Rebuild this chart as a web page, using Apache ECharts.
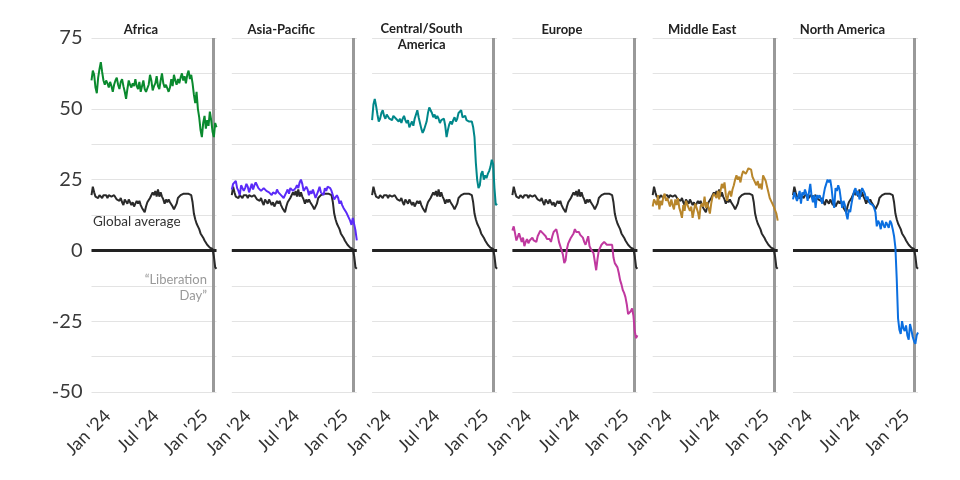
<!DOCTYPE html>
<html><head><meta charset="utf-8">
<script src="https://cdn.jsdelivr.net/npm/echarts@6/dist/echarts.min.js"></script>
<style>html,body{margin:0;padding:0;background:#fff}#c{width:960px;height:480px}</style>
</head><body><div id="c"></div>
<script>
// ---------- data ----------
const regions = ['Africa', 'Asia-Pacific', 'Central/South\nAmerica', 'Europe', 'Middle East', 'North America'];
const regionColors = ['#0a8a2e', '#5b2bf8', '#00878a', '#c0389f', '#b8862b', '#0b6fe0'];
const startDate = '2024-01-01';
const endDate = '2025-04-15';
const stepDays = 5;
const liberationDay = '2025-04-02';
const xTickDates = ['2024-01-01', '2024-07-01', '2025-01-01'];
const xTickLabels = ["Jan '24", "Jul '24", "Jan '25"];
const yTickLabels = [75, 50, 25, 0, -25, -50];

const globalAvg = [19.5,22.5,20.5,19,19.5,18.5,19.5,19,18.5,19.5,
 19,19.5,18.5,19.5,20,19,18.5,19.5,19,18,
 18.5,17.5,18.5,17,16,18,17.5,16.5,18,17,
 16,17,15.5,16.5,17.5,16.5,17.5,16,15,14.5,
 13.5,15.5,17,17.5,18.5,19,20.5,19.5,21,19,
 21.5,19,20.5,19,18,16.5,18,17,18,17,
 16.5,15.5,14.5,14,16.5,18.5,19,19.5,19,20,
 19.5,20,20.5,20,19.5,19.5,17,13,11,9.5,
 8.5,7.5,6,5.5,4.5,3.5,3,2,1.5,1,
 0.5,0.5,-2,-6,-6.5];

const africa = [60,63.5,62,57.5,55.5,61,64,66.5,63,60,
 58.5,60,59,57.5,59.5,58,56,58.5,60,61,
 58.5,57,59.5,60.5,58,56,53.5,57,60,58.5,
 57.5,59,58,60.5,58,57,59.5,56,58,60,
 57,56,55.5,58.5,62,60,56.5,58,59,61.5,
 58,57,60,62.5,59,57.5,58.5,58,56,57.5,
 60.5,58,62,60,58.5,60.5,59,61,62.5,60,
 61.5,59,62,63.5,60.5,62,59,55,52,56,
 50,47,42.5,40,45,47.5,43,46,44,49,
 46,42,40,45,43.5];

const asiaPacific = [21.5,23.5,24,24.5,22,21,19.5,23,22.5,21,
 22,23.5,22.5,20.5,22,23.5,21.5,23,24,23,
 22,22.5,21,20.5,22,22.5,21,21.5,20.5,21,
 19.5,20.5,21,20,21.5,20.5,21,19.5,20,18.5,
 19,20.5,21.5,20,22,22.5,21,20.5,22,23,
 22,24,25,23.5,21,20.5,22.5,21.5,19.5,21,
 20,21.5,20,18.5,19,21,22.5,20.5,21,19.5,
 22,21,22.5,23,22,21,19.5,18,17.5,19.5,
 18.5,16.5,17.5,16,15,14.5,13.5,13,11.5,10.5,
 9,11.5,12,7,3.5];

const centralSouthAmerica = [46,51.5,53.5,51,48,45.5,46.5,48.5,49.5,47.5,
 46.5,48,48.5,46.5,47,46,47.5,48,46.5,47,
 45.5,46.5,45,46.5,47.5,46,45,46,43.5,44.5,
 45.5,44,46.5,48,49.5,47,45,43,41.5,42.5,
 44,45.5,48.5,50.5,49.5,48.5,47,48,46.5,47.5,
 46.5,45,46,45.5,46.5,44,40,42.5,44.5,45.5,
 44.5,46,47,45.5,46.5,48.5,49,49.5,47,46.5,
 47.5,46,46.5,45.5,45,45.5,43.5,40,31,25,
 22,23,27,28,25,26.5,25.5,27,28,29.5,
 32,30.5,22,16,16.5];

const europe = [7,8.5,6,3.5,3,6,6,3,4.5,1.5,
 3,4,2.5,3.5,4,4.5,3.5,4,3,5,
 5.5,7,7.5,6,6.5,5,4,4.5,4,3,
 5,6.5,7,7.5,5.5,3,1.5,0,-1.5,-4.5,
 -3.5,0.5,2.5,3.5,4.5,5,6,7.5,6.5,6,
 6.5,5.5,6,4.5,3,2,3.5,5,1.5,0.5,
 0,-1,-4,-7,-3,0,1,2,2.5,3,
 2.5,2,2.5,2,1.5,2,-2.5,-4.5,-5,-6,
 -8,-10.5,-12,-14,-15,-16.5,-19,-22.5,-22.5,-21.5,
 -20.5,-23,-28.5,-31,-30];

const middleEast = [15.5,18,17,16,19.5,14.5,17.5,16,19,20,
 17.5,18.5,17,15.5,18,16,14.5,18,16,18.5,
 15,13.5,11.5,16,14,17.5,17,15,14,15.5,
 11.5,14,16.5,17,13.5,11,15.5,16.5,15.5,19,
 15,17,15,13,16.5,19,20,19.5,18.5,21,
 18,21,23.5,22,24,19.5,17.5,20,21,19,
 21.5,23,25,26.5,25,26,24,26.5,28,27.5,
 27,28,29,29.5,28.5,26,25,25.5,23,24.5,
 22,23.5,21.5,26.5,27,24.5,22.5,20.5,18.5,17.5,
 16.5,15.5,15,13,10.5];

const northAmerica = [18,20.5,21,17.5,19,21,16.5,20.5,19.5,21.5,
 20,17.5,20.5,23.5,19,17,19.5,15,19.5,18.5,
 19.5,20,16.5,19.5,22,23.5,25,24,25,22,
 17.5,15,22,21,23,21.5,18,15,17.5,16,
 13,11,14.5,13.5,16.5,19,21,22,19.5,21,
 18,20,22,22.5,20,18,19,17.5,16.5,17,
 16,15,13.5,8.5,10.5,9.5,7.5,10.5,9,8,
 10,9,8,10.5,9.5,7.5,5,1,-10,-24,
 -28,-29.5,-25,-27.5,-28.5,-26.5,-30,-31.5,-26,-28,
 -30.5,-32,-33,-30,-29];

const regionValues = [africa, asiaPacific, centralSouthAmerica, europe, middleEast, northAmerica];

// ---------- build ----------
const DAY = 86400000;
const ts = s => Date.parse(s + 'T00:00:00Z');
const t0 = ts(startDate), t1 = ts(endDate);
const dates = globalAvg.map((_, i) => t0 + i * stepDays * DAY);
const pair = arr => arr.map((v, i) => [dates[i], v]);
const tickTs = xTickDates.map(ts);
const labelShiftDays = 61;

const FONT = 'Lato, "Open Sans", sans-serif';
const panelLeft0 = 91.5, panelStep = 140.3, panelW = 125, panelTop = 38, panelBottom = 88;

const grid = [], xAxis = [], yAxis = [], series = [], graphic = [];
regions.forEach((name, i) => {
  const left = panelLeft0 + i * panelStep;
  grid.push({ left: left, width: panelW, top: panelTop, bottom: panelBottom, containLabel: false });
  // data axis
  xAxis.push({ gridIndex: i, type: 'time', min: t0, max: t1,
    axisLine: { show: false }, axisTick: { show: false }, axisLabel: { show: false }, splitLine: { show: false } });
  // label axis
  xAxis.push({ gridIndex: i, type: 'value', position: 'bottom',
    min: t0 - labelShiftDays * DAY, max: t1 - labelShiftDays * DAY,
    axisLine: { show: false }, axisTick: { show: false }, splitLine: { show: false },
    axisLabel: { show: true, rotate: 45, margin: 21, fontSize: 18, fontFamily: FONT, color: '#333',
      customValues: tickTs, formatter: v => { const k = tickTs.indexOf(v); return k >= 0 ? xTickLabels[k] : ''; } } });
  yAxis.push({ gridIndex: i, type: 'value', min: -50, max: 75, interval: 12.5,
    axisLine: { show: false }, axisTick: { show: false },
    splitLine: { show: true, lineStyle: { color: '#e3e3e3', width: 1 } },
    axisLabel: { show: i === 0, margin: 9, fontSize: 20, fontFamily: FONT, color: '#3a3a3a',
      formatter: v => yTickLabels.indexOf(v) >= 0 ? String(v) : '' } });

  series.push({ type: 'line', name: 'Global average', xAxisIndex: i * 2, yAxisIndex: i, data: pair(globalAvg),
    showSymbol: false, symbol: 'none', z: 3, lineStyle: { color: '#2a2a2a', width: 2 }, itemStyle: { color: '#2a2a2a' },
    markLine: { silent: true, symbol: 'none', z: 3.5, label: { show: false },
      lineStyle: { color: '#222', width: 3, type: 'solid' }, data: [{ yAxis: 0 }] } });
  series.push({ type: 'line', name: name, xAxisIndex: i * 2, yAxisIndex: i, data: pair(regionValues[i]),
    showSymbol: false, symbol: 'none', z: 4, lineStyle: { color: regionColors[i], width: 2 }, itemStyle: { color: regionColors[i] },
    markLine: { silent: true, symbol: 'none', z: 1, label: { show: false },
      lineStyle: { color: '#999', width: 3, type: 'solid' }, data: [{ xAxis: ts(liberationDay) }] } });

  graphic.push({ type: 'text', x: left + 49.5, y: name.indexOf('\n') >= 0 ? 37 : 30,
    style: { text: name, font: 'bold 13px ' + FONT, fill: '#222', align: 'center', verticalAlign: 'middle', lineHeight: 16 } });
});

graphic.push({ type: 'text', x: 93, y: 222,
  style: { text: 'Global average', font: '13.5px ' + FONT, fill: '#333', align: 'left', verticalAlign: 'middle' } });
graphic.push({ type: 'text', x: 207, y: 288,
  style: { text: '\u201cLiberation\nDay\u201d', font: '13px ' + FONT, fill: '#999', align: 'right', verticalAlign: 'middle', lineHeight: 16 } });

const chart = echarts.init(document.getElementById('c'), null, { renderer: 'canvas' });
chart.setOption({
  animation: false,
  backgroundColor: '#fff',
  grid, xAxis, yAxis, series, graphic
});
</script>
</body></html>
